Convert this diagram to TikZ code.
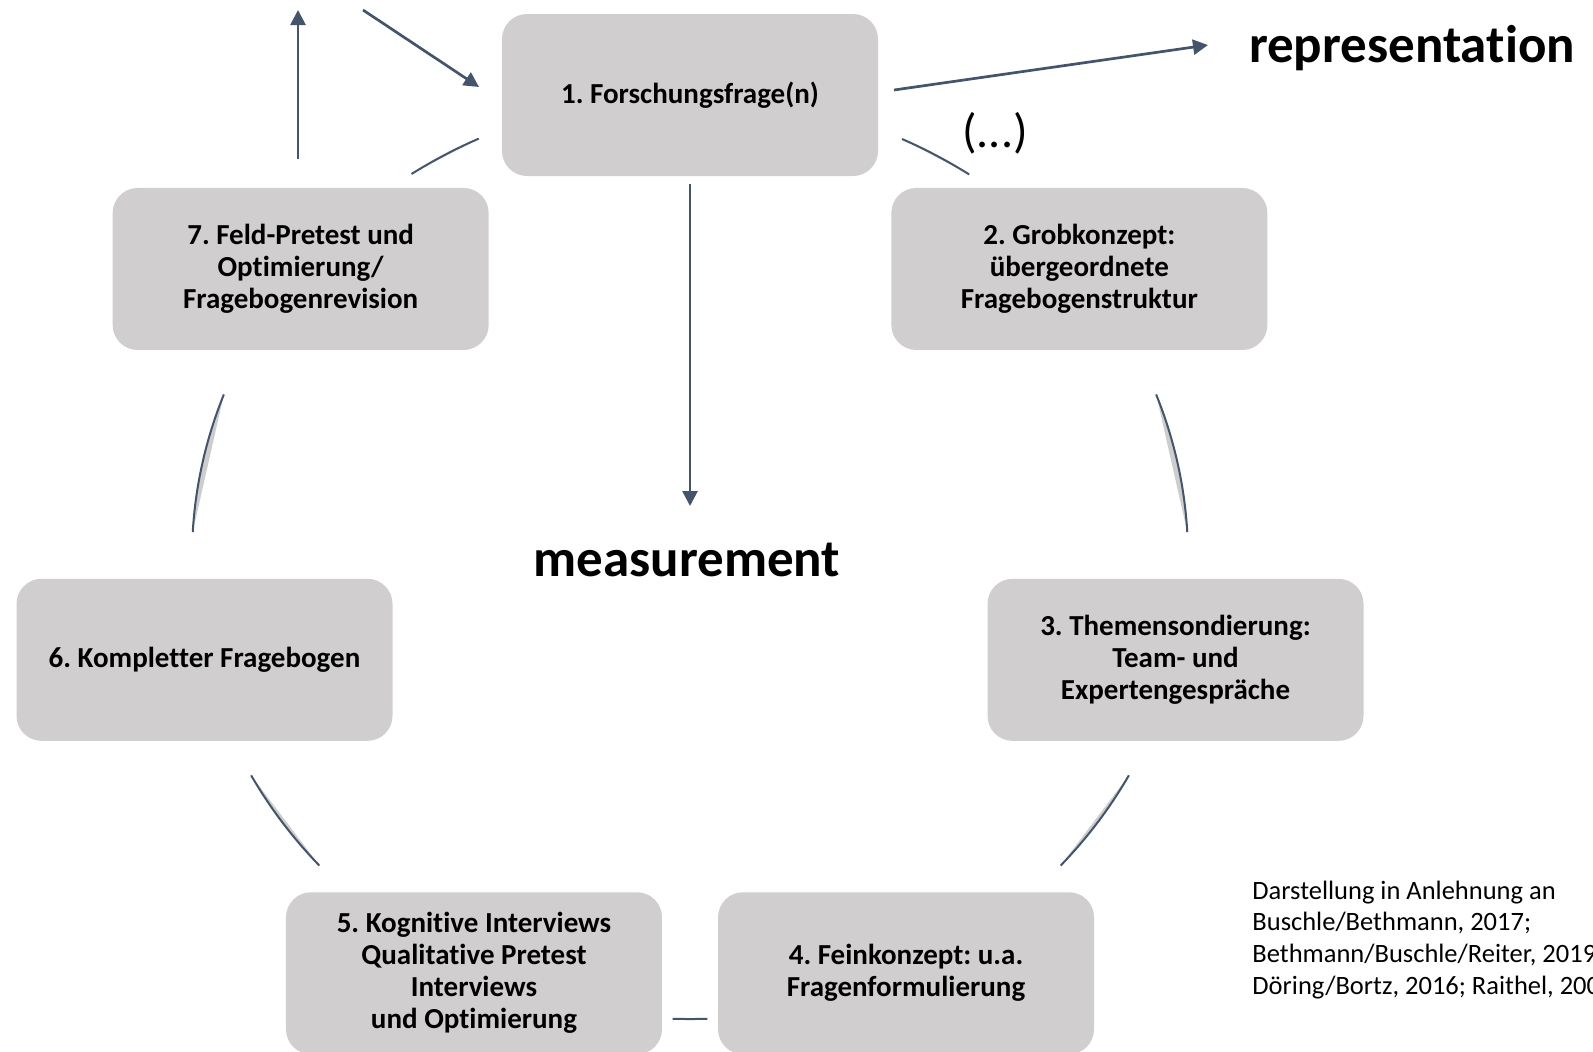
\documentclass[tikz,border=0pt]{standalone}
\usepackage{fontspec}
\setmainfont{Carlito}[Ligatures={NoCommon,NoContextual}, RawFeature={-liga;-clig;-calt;-dlig}]
\usetikzlibrary{arrows.meta,calc}
\definecolor{boxgray}{RGB}{208,206,206}
\definecolor{slate}{RGB}{68,84,106}
\definecolor{arcgray}{RGB}{205,205,205}

\begin{document}
\frenchspacing
\begin{tikzpicture}[x=0.5pt,y=-0.5pt,
  stage/.style={fill=boxgray, rounded corners=12.5pt, minimum width=188pt,
    minimum height=81pt, inner sep=0pt, align=center,
    font=\fontsize{14.5}{16}\selectfont\bfseries},
  flow/.style={draw=slate, line width=1.35pt,
    -{Triangle[length=7.5pt,width=7.5pt]}},
  ring/.style={draw=slate, line width=1pt},
  ringshade/.style={fill=arcgray},
  big/.style={font=\fontsize{26.5}{30}\selectfont\bfseries},
  note/.style={font=\fontsize{13.25}{15.8}\selectfont, align=left, inner sep=0pt}
]
\useasboundingbox (0,0) rectangle (1593,1051);

% centre of the elliptical cycle
\coordinate (c) at (690,557);

% the seven stages around the cycle
\node[stage] (s1) at ($(c)+(-90:498 and 462)$) {1. Forschungsfrage(n)};
\node[stage] (s2) at ($(c)+(-38.57:498 and 462)$) {2. Grobkonzept:\\übergeordnete\\Fragebogenstruktur};
\node[stage] (s3) at ($(c)+(12.86:498 and 462)$) {3. Themensondierung:\\Team- und\\Expertengespräche};
\node[stage] (s4) at ($(c)+(64.29:498 and 462)$) {4. Feinkonzept: u.a.\\Fragenformulierung};
\node[stage] (s5) at ($(c)+(115.71:498 and 462)$) {5. Kognitive Interviews\\Qualitative Pretest\\Interviews\\und Optimierung};
\node[stage] (s6) at ($(c)+(167.14:498 and 462)$) {6. Kompletter Fragebogen};
\node[stage] (s7) at ($(c)+(218.57:498 and 462)$) {7. Feld-Pretest und\\Optimierung/\\Fragebogenrevision};

% arcs linking the stages
\foreach \a/\b in {-124.0/-115.1, -64.8/-55.9, -20.6/-3.1, 28.2/41.9,
                   88/92, 138.1/151.8, 183.1/200.6} {
  \fill[ringshade] (c) ++(\a:498 and 462)
    arc[start angle=\a, end angle=\b, x radius=498, y radius=462] -- cycle;
  \draw[ring] (c) ++(\a:498 and 462)
    arc[start angle=\a, end angle=\b, x radius=498, y radius=462];
}

% arrows
\coordinate (upA) at (298,159);  \coordinate (upB) at (298,10);
\coordinate (inA) at (363,10);   \coordinate (inB) at (479,87);
\coordinate (repA) at (894,90);  \coordinate (repB) at (1208,45);
\coordinate (msA) at (690,184);  \coordinate (msB) at (690,506);
\draw[flow] (upA) -- (upB);
\draw[flow] (inA) -- (inB);
\draw[flow] (repA) -- (repB);
\draw[flow] (msA) -- (msB);

% labels
\node[big, anchor=base] (rep) at (1412,62) {representation};
\node[big, anchor=base] (meas) at (687,576) {measurement};
\node[font=\fontsize{24}{28}\selectfont] (etc) at (995,133) {(...)};
\node[note, anchor=base west] (src) at (1252,994)
  {Darstellung in Anlehnung an\\Buschle/Bethmann, 2017;\\Bethmann/Buschle/Reiter, 2019;\\Döring/Bortz, 2016; Raithel, 2008};
\end{tikzpicture}
\end{document}
